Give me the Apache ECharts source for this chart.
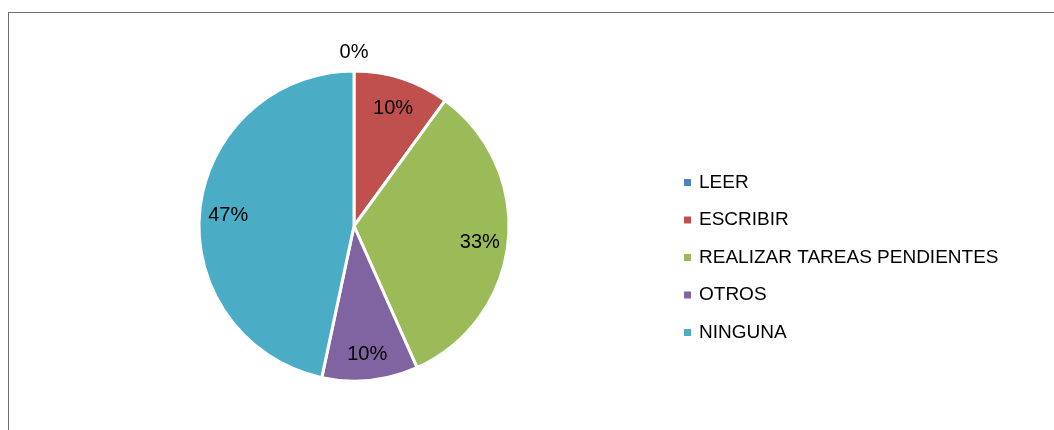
<!DOCTYPE html>
<html>
<head>
<meta charset="utf-8">
<script src="https://cdn.jsdelivr.net/npm/echarts@6/dist/echarts.min.js"></script>
<style>
  html, body { margin: 0; padding: 0; background: #fff; }
  #frame {
    position: absolute; left: 8px; top: 12px; width: 1100px; height: 500px;
    border-left: 1.5px solid #6e6e6e; border-top: 1.5px solid #6e6e6e;
  }
  #chart { position: absolute; left: 0; top: 0; width: 1054px; height: 430px; }
</style>
</head>
<body>
<div id="frame"></div>
<div id="chart"></div>
<script>
// datos
const categories = ["LEER", "ESCRIBIR", "REALIZAR TAREAS PENDIENTES", "OTROS", "NINGUNA"];
const values = [0, 3, 10, 3, 14];
const colors = ["#4F81BD", "#C0504D", "#9BBB59", "#8064A2", "#4BACC6"];

const font = "Liberation Sans";
const total = values.reduce((a, b) => a + b, 0);
const pct = v => Math.round((v / total) * 100) + "%";

const myChart = echarts.init(document.getElementById("chart"));

const option = {
  animation: false,
  color: colors,
  legend: {
    orient: "vertical",
    left: 677,
    top: 168,
    icon: "rect",
    itemWidth: 9,
    itemHeight: 9,
    itemGap: 18.5,
    data: categories,
    textStyle: {
      fontFamily: font,
      fontSize: 19,
      lineHeight: 19,
      color: "#000",
      padding: [0, 0, 0, 2],
    },
  },
  series: [
    {
      // sectores
      type: "pie",
      center: [354, 226],
      radius: 155,
      startAngle: 90,
      clockwise: true,
      avoidLabelOverlap: false,
      silent: true,
      itemStyle: { borderColor: "#fff", borderWidth: 3 },
      label: { show: false },
      labelLine: { show: false, length: 19, length2: 0 },
      labelLayout: p => (p.dataIndex === 0 ? { align: "center" } : {}),
      data: categories.map((name, i) => ({
        name,
        value: values[i],
        // solo el 0% va fuera del circulo
        label: values[i] === 0
          ? {
              show: true,
              position: "outside",
              distanceToLabelLine: 0,
              formatter: pct(values[i]),
              fontFamily: font,
              fontSize: 20,
              color: "#000",
            }
          : { show: false },
      })),
    },
    {
      // etiquetas internas
      type: "pie",
      center: [354, 226],
      radius: [92, 155],
      startAngle: 90,
      clockwise: true,
      silent: true,
      itemStyle: { color: "rgba(0,0,0,0)" },
      label: {
        show: true,
        position: "inside",
        fontFamily: font,
        fontSize: 20,
        color: "#000",
        formatter: p => pct(p.value),
      },
      labelLayout: { dy: 3 },
      labelLine: { show: false },
      data: categories.map((name, i) => ({
        name,
        value: values[i],
        label: { show: values[i] !== 0 },
      })),
    },
  ],
};

option && myChart.setOption(option);
</script>
</body>
</html>
